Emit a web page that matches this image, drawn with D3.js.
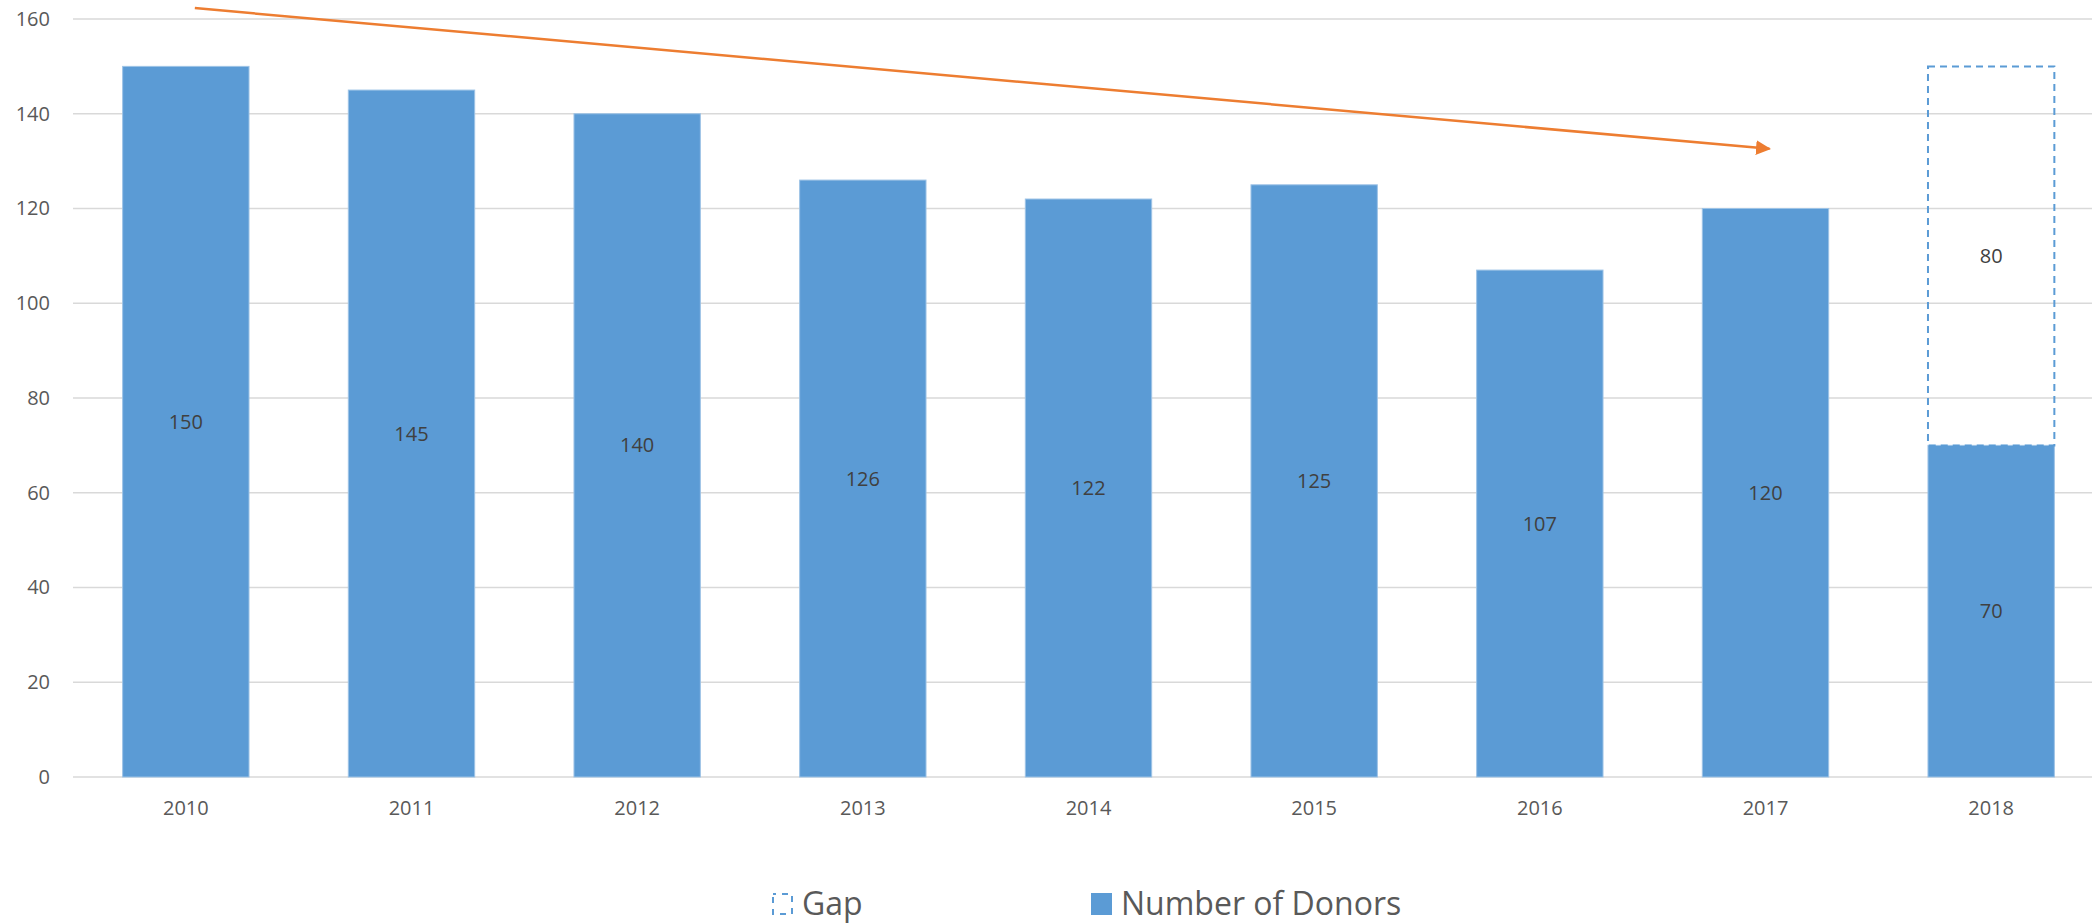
<!DOCTYPE html>
<html>
<head>
<meta charset="utf-8">
<script src="https://cdn.jsdelivr.net/npm/d3@7/dist/d3.min.js"></script>
<style>
  body { margin: 0; background: #fff; }
  svg { display: block; font-family: "Open Sans", sans-serif; }
</style>
</head>
<body>
<div id="chart"></div>
<script>
var years = ['2010', '2011', '2012', '2013', '2014', '2015', '2016', '2017', '2018']
var donors = [150, 145, 140, 126, 122, 125, 107, 120, 70]
var gapYears = ['2018']
var gapValues = [80]
var yTicks = [0, 20, 40, 60, 80, 100, 120, 140, 160]
// trend arrow, in data terms: [year, value]
var trendStart = ['2010', 162.3]
var trendEnd = ['2017', 132.6]

var W = 2092, H = 923
var blue = '#5B9BD5', orange = '#ED7D31', grid = '#D9D9D9', textColor = '#595959'

var svg = d3.select('#chart').append('svg')
    .attr('width', W)
    .attr('height', H)

var x = d3.scaleBand()
    .domain(years)
    .range([73, 2104])
    .paddingInner(0.44)
    .paddingOuter(0.22)

var y = d3.scaleLinear()
    .domain([0, 160])
    .range([777, 19])

// gridlines
svg.append('g')
    .selectAll('line')
    .data(yTicks)
    .join('line')
    .attr('x1', 73)
    .attr('x2', W)
    .attr('y1', function(d) { return y(d) })
    .attr('y2', function(d) { return y(d) })
    .attr('stroke', grid)
    .attr('stroke-width', 1.5)

// y axis labels
var yAxis = svg.append('g')
    .attr('transform', 'translate(58,0)')
    .call(d3.axisLeft(y).tickValues(yTicks).tickSize(0).tickPadding(8))
yAxis.select('.domain').remove()
yAxis.selectAll('text')
    .attr('fill', textColor)
    .style('font-size', '20px')
    .style('font-family', '"Open Sans", sans-serif')

// x axis labels
var xAxis = svg.append('g')
    .attr('transform', 'translate(0,777)')
    .call(d3.axisBottom(x).tickSize(0).tickPadding(24))
xAxis.select('.domain').remove()
xAxis.selectAll('text')
    .attr('fill', textColor)
    .style('font-size', '20px')
    .style('font-family', '"Open Sans", sans-serif')

// bars
svg.append('g')
    .selectAll('rect')
    .data(years)
    .join('rect')
    .attr('x', function(d) { return x(d) })
    .attr('width', x.bandwidth())
    .attr('y', function(d, i) { return y(donors[i]) })
    .attr('height', function(d, i) { return y(0) - y(donors[i]) })
    .attr('fill', blue)
    .attr('stroke', '#9DC3E6')
    .attr('stroke-width', 1)

// gap (dashed, stacked on top)
svg.append('g')
    .selectAll('rect')
    .data(gapYears)
    .join('rect')
    .attr('x', function(d) { return x(d) })
    .attr('width', x.bandwidth())
    .attr('y', function(d, i) { return y(donors[years.indexOf(d)] + gapValues[i]) })
    .attr('height', function(d, i) { return y(0) - y(gapValues[i]) })
    .attr('fill', 'none')
    .attr('stroke', blue)
    .attr('stroke-width', 2)
    .attr('stroke-dasharray', '7,5')

// value labels, centred in each segment
svg.append('g')
    .selectAll('text')
    .data(years)
    .join('text')
    .attr('x', function(d) { return x(d) + x.bandwidth() / 2 })
    .attr('y', function(d, i) { return y(donors[i] / 2) })
    .attr('dy', '0.35em')
    .attr('text-anchor', 'middle')
    .attr('fill', '#404040')
    .style('font-size', '20px')
    .text(function(d, i) { return donors[i] })

svg.append('g')
    .selectAll('text')
    .data(gapYears)
    .join('text')
    .attr('x', function(d) { return x(d) + x.bandwidth() / 2 })
    .attr('y', function(d, i) { return y(donors[years.indexOf(d)] + gapValues[i] / 2) })
    .attr('dy', '0.35em')
    .attr('text-anchor', 'middle')
    .attr('fill', '#404040')
    .style('font-size', '20px')
    .text(function(d, i) { return gapValues[i] })

// trend arrow
svg.append('defs').append('marker')
    .attr('id', 'arrow')
    .attr('viewBox', '0 0 10 10')
    .attr('refX', 9)
    .attr('refY', 5)
    .attr('markerWidth', 6)
    .attr('markerHeight', 6)
    .attr('markerUnits', 'strokeWidth')
    .attr('orient', 'auto')
    .append('path')
    .attr('d', 'M0,0L10,5L0,10z')
    .attr('fill', orange)

var cx = function(d) { return x(d) + x.bandwidth() / 2 }
svg.append('line')
    .attr('x1', cx(trendStart[0]) + 9)
    .attr('y1', y(trendStart[1]))
    .attr('x2', cx(trendEnd[0]) + 4)
    .attr('y2', y(trendEnd[1]))
    .attr('stroke', orange)
    .attr('stroke-width', 2.5)
    .attr('marker-end', 'url(#arrow)')

// legend
var legend = svg.append('g').attr('transform', 'translate(0,915)')

legend.append('rect')
    .attr('x', 773)
    .attr('y', -21)
    .attr('width', 19)
    .attr('height', 20)
    .attr('fill', 'none')
    .attr('stroke', blue)
    .attr('stroke-width', 2)
    .attr('stroke-dasharray', '6,6')
    .attr('stroke-dashoffset', 3)
legend.append('text')
    .attr('x', 802)
    .attr('y', 0)
    .attr('fill', textColor)
    .style('font-size', '32px')
    .text('Gap')

legend.append('rect')
    .attr('x', 1091)
    .attr('y', -22)
    .attr('width', 21)
    .attr('height', 22)
    .attr('fill', blue)
legend.append('text')
    .attr('x', 1121)
    .attr('y', 0)
    .attr('fill', textColor)
    .style('font-size', '32px')
    .text('Number of Donors')
</script>
</body>
</html>
